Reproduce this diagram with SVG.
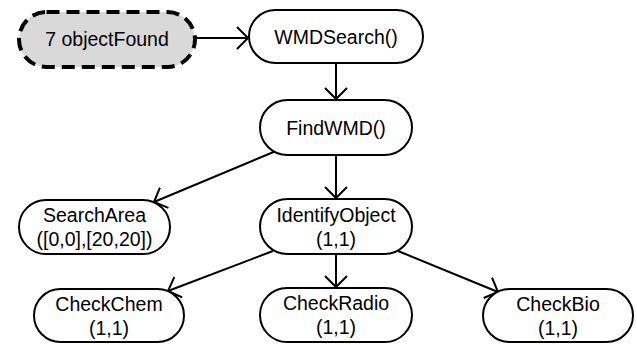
<svg xmlns="http://www.w3.org/2000/svg" width="637" height="345" viewBox="0 0 637 345">
<style>
.n rect{fill:#fff;stroke:#000;stroke-width:2}
.n text{font-family:"Liberation Sans",Arial,sans-serif;font-size:19.5px;text-anchor:middle;fill:#000}
.start rect{fill:#d9d9d9;stroke:#000;stroke-width:4;stroke-dasharray:13 7}
.c line{stroke:#000;stroke-width:2;fill:none;marker-end:url(#arr)}
</style>
<defs>
<marker id="arr" markerUnits="userSpaceOnUse" viewBox="0 0 14 24" refX="12" refY="12" markerWidth="14" markerHeight="24" orient="auto">
<path d="M1,1 L12,12 L1,23" fill="none" stroke="#000" stroke-width="2"/>
</marker>
</defs>
<rect width="637" height="345" fill="#fff"/>
<g class="c">
<line x1="195" y1="38" x2="248" y2="38"/>
<line x1="336" y1="63" x2="336" y2="99"/>
<line x1="276" y1="151" x2="154" y2="202"/>
<line x1="336" y1="155" x2="336" y2="198"/>
<line x1="273" y1="251" x2="168" y2="291"/>
<line x1="336" y1="254" x2="336" y2="287"/>
<line x1="398" y1="251" x2="498" y2="292"/>
</g>
<g id="objectFound" class="n start"><rect x="19" y="12" width="176" height="55" rx="27.5"/><text x="107" y="46">7 objectFound</text></g>
<g id="WMDSearch" class="n"><rect x="249" y="10" width="174" height="53" rx="26.5"/><text x="336" y="43.5">WMDSearch()</text></g>
<g id="FindWMD" class="n"><rect x="260" y="100" width="152" height="55" rx="27.5"/><text x="336" y="134.5">FindWMD()</text></g>
<g id="SearchArea" class="n"><rect x="19" y="200" width="151" height="54" rx="27"/><text x="94.5" y="222">SearchArea</text><text x="94.5" y="246">([0,0],[20,20])</text></g>
<g id="IdentifyObject" class="n"><rect x="260" y="199" width="152" height="55" rx="27.5"/><text x="336" y="221.5">IdentifyObject</text><text x="336" y="245.5">(1,1)</text></g>
<g id="CheckChem" class="n"><rect x="34" y="289" width="150" height="53" rx="26.5"/><text x="109" y="310.5">CheckChem</text><text x="109" y="334.5">(1,1)</text></g>
<g id="CheckRadio" class="n"><rect x="260" y="288" width="152" height="54" rx="27"/><text x="336" y="310">CheckRadio</text><text x="336" y="334">(1,1)</text></g>
<g id="CheckBio" class="n"><rect x="483" y="289" width="150" height="53" rx="26.5"/><text x="558" y="310.5">CheckBio</text><text x="558" y="334.5">(1,1)</text></g>
</svg>
